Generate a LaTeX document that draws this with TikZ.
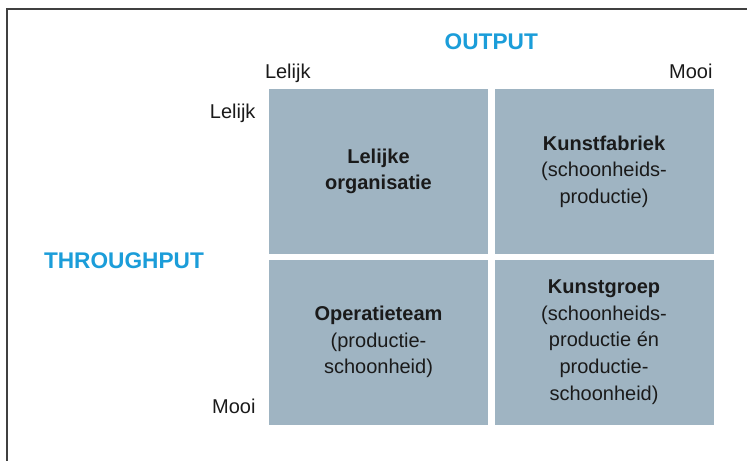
\documentclass[tikz,border=0pt]{standalone}
\usepackage{fontspec}
\setmainfont{Liberation Sans}
\usepackage{tikz}
\usetikzlibrary{positioning, calc}

\definecolor{cellgray}{HTML}{9FB4C2}
\definecolor{axisblue}{HTML}{1B9DD9}
\definecolor{framegray}{HTML}{404040}
\definecolor{inkblack}{HTML}{1A1A1A}

\begin{document}
\begin{tikzpicture}[
  x=0.75pt, y=-0.75pt,
  every node/.style={font=\fontsize{15}{20}\selectfont, text=inkblack},
  cell/.style={fill=cellgray, minimum width=164.25pt, minimum height=123.75pt,
    align=center, inner sep=0pt},
  axis/.style={inner sep=0pt},
  title/.style={inner sep=0pt, text=axisblue, font=\fontsize{17}{20}\selectfont\bfseries},
]
  \useasboundingbox (0,0) rectangle (747,461);
  \draw[framegray, line width=1.5pt] (7,475) |- (760,9);

  % the four quadrants
  \node (lo) [cell] at (378.5,171.5) {\textbf{Lelijke}\\\textbf{organisatie}};
  \node (kf) [cell, right=4.5pt of lo] {\textbf{Kunstfabriek}\\(schoonheids-\\productie)};
  \node (ot) [cell, below=3.75pt of lo] {\textbf{Operatieteam}\\(productie-\\schoonheid)};
  \node (kg) [cell, right=4.5pt of ot]
    {\textbf{Kunstgroep}\\(schoonheids-\\productie én\\productie-\\schoonheid)};

  % axis ends
  \node (outlelijk) [axis, anchor=base west] at ($(lo.north west)+(-4,-10)$) {Lelijk};
  \node (outmooi)   [axis, anchor=base east] at ($(kf.north east)+(-1,-10)$) {Mooi};
  \node (thrlelijk) [axis, anchor=base east] at ($(lo.north west)+(-13,30)$) {Lelijk};
  \node (thrmooi)   [axis, anchor=base east] at ($(ot.south west)+(-13,-11)$) {Mooi};

  \node (output) [title, anchor=base] at ($(lo.north east)!0.5!(kf.north west)+(0,-39)$) {OUTPUT};
  \node (throughput) [title, anchor=base west] at ($(lo.south west)+(-225,14)$) {THROUGHPUT};
\end{tikzpicture}
\end{document}
